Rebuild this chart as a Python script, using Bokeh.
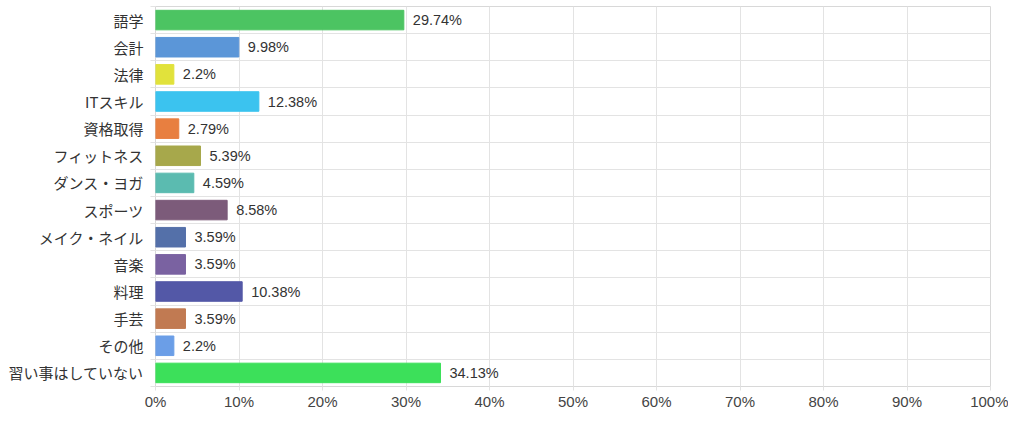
from bokeh.plotting import figure
from bokeh.models import ColumnDataSource, Range1d, FixedTicker, PrintfTickFormatter
from bokeh.core.properties import value
from bokeh.embed import file_html
from bokeh.resources import INLINE

categories = ["語学", "会計", "法律", "ITスキル", "資格取得", "フィットネス", "ダンス・ヨガ",
              "スポーツ", "メイク・ネイル", "音楽", "料理", "手芸", "その他", "習い事はしていない"]
values = [29.74, 9.98, 2.2, 12.38, 2.79, 5.39, 4.59, 8.58, 3.59, 3.59, 10.38, 3.59, 2.2, 34.13]
colors = ["#4cc462", "#5b96d8", "#e1e23b", "#3bc3ef", "#e87f40", "#a7a84b", "#5bbbb0",
          "#7c5b7a", "#5470a9", "#7a62a1", "#5358a7", "#c17a52", "#6b9ee7", "#3ce05a"]
x_ticks = [0, 10, 20, 30, 40, 50, 60, 70, 80, 90, 100]

n = len(categories)
ypos = [i + 0.5 for i in range(n)]
labels = [f"{v}%" for v in values]

src = ColumnDataSource(dict(y=ypos, v=values, c=colors, lab=labels))

p = figure(width=1008, height=412, output_backend="svg", toolbar_location=None,
           x_range=Range1d(0, 100), y_range=Range1d(n, 0),
           min_border_left=155, min_border_right=18, min_border_top=6, min_border_bottom=20)

p.hbar(y="y", right="v", left=0, height=0.72, color="c", source=src)
p.text(x="v", y="y", text="lab", source=src, x_offset=9, text_align="left",
       text_baseline="middle", text_font=value("Liberation Sans"), text_font_size="14.5px",
       text_color="#333333")

grid_col = "#e3e3e3"
p.outline_line_color = "#d8d8d8"

p.xaxis.ticker = FixedTicker(ticks=x_ticks)
p.xaxis.formatter = PrintfTickFormatter(format="%d%%")
p.xaxis.axis_line_color = None
p.xaxis.major_tick_line_color = grid_col
p.xaxis.major_tick_out = 4
p.xaxis.major_tick_in = 0
p.xaxis.minor_tick_line_color = None
p.xaxis.major_label_standoff = 2
p.xaxis.major_label_text_font = "Liberation Sans"
p.xaxis.major_label_text_font_size = "15px"
p.xaxis.major_label_text_color = "#444444"

p.yaxis.ticker = FixedTicker(ticks=ypos, minor_ticks=list(range(n + 1)))
p.yaxis.major_label_overrides = {y: c for y, c in zip(ypos, categories)}
p.yaxis.axis_line_color = None
p.yaxis.major_tick_line_color = None
p.yaxis.minor_tick_line_color = grid_col
p.yaxis.minor_tick_out = 5
p.yaxis.minor_tick_in = 0
p.yaxis.major_label_standoff = 6
p.yaxis.major_label_text_font = "Noto Sans CJK JP"
p.yaxis.major_label_text_font_size = "15px"
p.yaxis.major_label_text_color = "#333333"

p.xgrid.ticker = FixedTicker(ticks=x_ticks)
p.xgrid.grid_line_color = grid_col
p.ygrid.ticker = FixedTicker(ticks=list(range(n + 1)))
p.ygrid.grid_line_color = grid_col

open("out.html", "w").write(file_html(p, INLINE))
